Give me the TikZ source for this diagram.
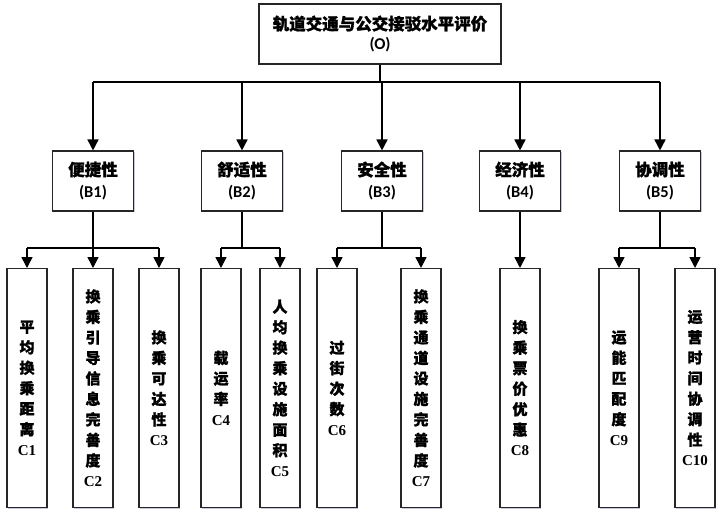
\documentclass[tikz,border=0pt]{standalone}
\usepackage{fontspec}
\newfontfamily\cjk{Noto Sans CJK SC}[BoldFeatures={FakeBold=1.2}]
\newfontfamily\latc{Carlito}
\newfontfamily\latt{Liberation Serif}
\usetikzlibrary{arrows.meta,shadows}
\begin{document}
\begin{tikzpicture}[x=1pt,y=-1pt,
  box/.style={draw=black!85,line width=1.1pt,fill=white,inner sep=0pt,align=center,
    drop shadow={shadow xshift=1.3pt,shadow yshift=-1.3pt,fill=blue!25!gray,opacity=0.35}},
  obox/.style={box,minimum width=242pt,minimum height=60pt,font=\cjk\bfseries\fontsize{16.5}{20}\selectfont},
  bbox/.style={box,minimum width=81pt,minimum height=60pt,font=\cjk\bfseries\fontsize{16.5}{22}\selectfont},
  cbox/.style={box,anchor=north,minimum width=40pt,minimum height=239pt,font=\cjk\bfseries\fontsize{15}{20.5}\selectfont},
  conn/.style={line width=1.6pt,black},
  arr/.style={conn,-{Triangle[width=11pt,length=11pt]}},
]
\useasboundingbox (0,0) rectangle (723,517);
\fill[white] (0,0) rectangle (723,517);

\node[obox] (O) at (380,34) {轨道交通与公交接驳水平评价\\{\latc\bfseries (O)}};

\node[bbox] (B1) at (93,181) {便捷性\\{\latc\bfseries (B1)}};
\node[bbox] (B2) at (242,181) {舒适性\\{\latc\bfseries (B2)}};
\node[bbox] (B3) at (382,181) {安全性\\{\latc\bfseries (B3)}};
\node[bbox] (B4) at (520,181) {经济性\\{\latc\bfseries (B4)}};
\node[bbox] (B5) at (660,181) {协调性\\{\latc\bfseries (B5)}};

\node[cbox] (C1) at (27,268) {平\\均\\换\\乘\\距\\离\\{\latt\bfseries C1}};
\node[cbox] (C2) at (93,268) {换\\乘\\引\\导\\信\\息\\完\\善\\度\\{\latt\bfseries C2}};
\node[cbox] (C3) at (159,268) {换\\乘\\可\\达\\性\\{\latt\bfseries C3}};
\node[cbox] (C4) at (221,268) {载\\运\\率\\{\latt\bfseries C4}};
\node[cbox] (C5) at (280,268) {人\\均\\换\\乘\\设\\施\\面\\积\\{\latt\bfseries C5}};
\node[cbox] (C6) at (337,268) {过\\街\\次\\数\\{\latt\bfseries C6}};
\node[cbox] (C7) at (421,268) {换\\乘\\通\\道\\设\\施\\完\\善\\度\\{\latt\bfseries C7}};
\node[cbox] (C8) at (520,268) {换\\乘\\票\\价\\优\\惠\\{\latt\bfseries C8}};
\node[cbox] (C9) at (619,268) {运\\能\\匹\\配\\度\\{\latt\bfseries C9}};
\node[cbox] (C10) at (695,268) {运\\营\\时\\间\\协\\调\\性\\{\latt\bfseries C10}};

% O -> B
\coordinate (ob) at (380,82);
\draw[conn] (O.south) -- (ob);
\draw[conn] (ob -| B1) -- (ob -| B5);
\foreach \b in {B1,B2,B3,B4,B5} \draw[arr] (ob -| \b) -- (\b.north);

% B -> C
\coordinate (b1) at (93,248);
\coordinate (b2) at (242,248);
\coordinate (b3) at (382,248);
\coordinate (b4) at (520,248);
\coordinate (b5) at (660,248);
\draw[conn] (B1.south) -- (b1);
\draw[conn] (B2.south) -- (b2);
\draw[conn] (B3.south) -- (b3);
\draw[conn] (B4.south) -- (b4);
\draw[conn] (B5.south) -- (b5);
\draw[conn] (b1 -| C1) -- (b1 -| C3);
\draw[conn] (b2 -| C4) -- (b2 -| C5);
\draw[conn] (b3 -| C6) -- (b3 -| C7);
\draw[conn] (b5 -| C9) -- (b5 -| C10);
\foreach \c in {C1,C2,C3} \draw[arr] (b1 -| \c) -- (\c.north);
\foreach \c in {C4,C5} \draw[arr] (b2 -| \c) -- (\c.north);
\foreach \c in {C6,C7} \draw[arr] (b3 -| \c) -- (\c.north);
\draw[arr] (b4) -- (C8.north);
\foreach \c in {C9,C10} \draw[arr] (b5 -| \c) -- (\c.north);
\end{tikzpicture}
\end{document}
